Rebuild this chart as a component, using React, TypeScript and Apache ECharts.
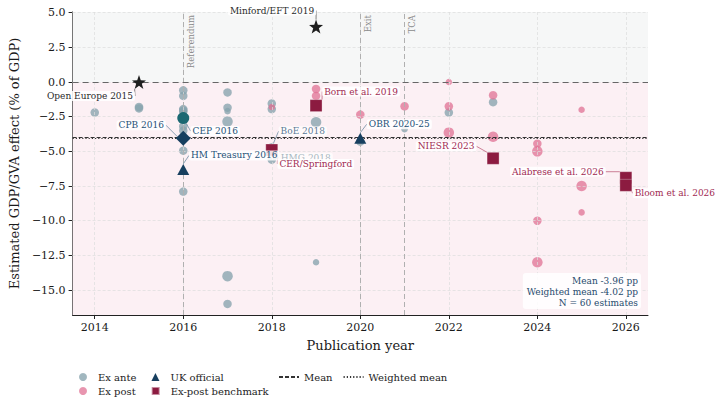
import React, { useEffect, useRef } from "react";
import * as echarts from "echarts";

// ---------- data ----------
const X_TICKS = [2014, 2016, 2018, 2020, 2022, 2024, 2026];
const Y_TICKS = [5, 2.5, 0, -2.5, -5, -7.5, -10, -12.5, -15];
const X_MIN = 2013.5;
const X_MAX = 2026.5;
const Y_MIN = -16.8;
const Y_MAX = 5.05;

const EX_ANTE_YEARS = [2014, 2015, 2015, 2016, 2016, 2016, 2016, 2016, 2016, 2016, 2016, 2016, 2017, 2017, 2017, 2017, 2017, 2017, 2018, 2018, 2018, 2018, 2019, 2019, 2020, 2021, 2022, 2023];
const EX_ANTE_VALUES = [-2.2, -1.8, -1.9, -0.6, -1.0, -1.95, -2.05, -2.15, -3.2, -3.5, -4.95, -7.9, -0.75, -1.85, -2.1, -2.85, -14.0, -16.0, -1.55, -1.95, -4.7, -5.6, -2.9, -13.0, -4.3, -3.4, -2.2, -1.45];
const EX_ANTE_WEIGHTS = [2, 2, 2, 2, 2, 2, 2, 2, 2, 2, 2, 2, 2, 2, 1, 3, 3, 2, 2, 2, 2, 2, 3, 1, 2, 1, 2, 2];
const EX_ANTE_NAMES = ["", "", "", "", "", "", "", "", "", "", "", "", "", "", "", "", "", "", "", "", "BoE 2018", "HMG 2018", "", "", "", "", "", ""];

const EX_POST_YEARS = [2018, 2019, 2019, 2020, 2021, 2022, 2022, 2022, 2023, 2023, 2024, 2024, 2024, 2024, 2025, 2025, 2025];
const EX_POST_VALUES = [-1.8, -0.5, -1.0, -2.35, -1.75, 0.0, -1.75, -3.65, -0.95, -3.95, -4.45, -5.0, -10.0, -13.0, -2.0, -7.5, -9.4];
const EX_POST_WEIGHTS = [1, 2, 2, 2, 2, 1, 2, 3, 2, 3, 2, 3, 2, 3, 1, 3, 1];

const UK_OFFICIAL_NAMES = ["HM Treasury 2016", "OBR 2020-25"];
const UK_OFFICIAL_YEARS = [2016, 2020];
const UK_OFFICIAL_VALUES = [-6.3, -4.05];

const BENCHMARK_NAMES = ["CER/Springford", "Born et al. 2019", "NIESR 2023", "Alabrese et al. 2026", "Bloom et al. 2026"];
const BENCHMARK_YEARS = [2018, 2019, 2023, 2026, 2026];
const BENCHMARK_VALUES = [-4.9, -1.7, -5.5, -6.9, -7.45];

const CEP_NAMES = ["CEP 2016"];
const CEP_YEARS = [2016];
const CEP_VALUES = [-2.6];

const CPB_NAMES = ["CPB 2016"];
const CPB_YEARS = [2016];
const CPB_VALUES = [-4.05];

const OUTLIER_NAMES = ["Minford/EFT 2019", "Open Europe 2015"];
const OUTLIER_YEARS = [2019, 2015];
const OUTLIER_VALUES = [4.0, 0.0];

const EVENT_YEARS = [2016, 2020, 2021];
const EVENT_NAMES = ["Referendum", "Exit", "TCA"];

const MEAN = -3.96;
const WEIGHTED_MEAN = -4.02;
const N_ESTIMATES = 60;

// ---------- layout / style ----------
const FONT = "'DejaVu Serif', serif";
const WEIGHT_SIZE: Record<number, number> = { 1: 6.5, 2: 8.5, 3: 10.5 };
const LABEL_OFFSETS: Record<string, [number, number]> = {
  "Minford/EFT 2019": [-44, -16],
  "Open Europe 2015": [-49, 14],
  "Born et al. 2019": [45, -14],
  "CPB 2016": [-42, -13],
  "CEP 2016": [32, 13],
  "BoE 2018": [31, -16],
  "HM Treasury 2016": [51, -14],
  "HMG 2018": [34, -2],
  "CER/Springford": [44, 14],
  "OBR 2020-25": [39, -14],
  "NIESR 2023": [-47, -12],
  "Alabrese et al. 2026": [-68, -6],
  "Bloom et al. 2026": [49, 8],
};
const BLUE_TEXT = "#245177";
const PINK_TEXT = "#a12a52";
const DARK_TEXT = "#2a2a2a";

function points(years: number[], values: number[], names?: string[], weights?: number[], labelColor?: (name: string) => string) {
  return years.map((x, i) => {
    const name = names ? names[i] : "";
    const item: any = { value: [x, values[i]], name };
    if (weights) item.symbolSize = WEIGHT_SIZE[weights[i]];
    if (name) {
      const c = labelColor ? labelColor(name) : undefined;
      item.label = c ? { show: true, color: c } : { show: true };
      item.labelLine = { show: true };
    }
    return item;
  });
}

function labelCfg(color: string) {
  return {
    show: false,
    position: "inside",
    formatter: "{b}",
    color,
    fontFamily: FONT,
    fontSize: 9,
    backgroundColor: "rgba(255,255,255,0.85)",
    padding: [1, 2, 0, 2],
    borderRadius: 2,
  };
}
function labelLineCfg(color: string) {
  return { show: false, lineStyle: { color, width: 0.8 } };
}
const labelLayout = (params: any) => {
  const off = LABEL_OFFSETS[params.text];
  return off ? { dx: off[0], dy: off[1] } : {};
};

const STAR = "path://M12,0 L14.9,8.1 L23.4,8.3 L16.6,13.5 L19.1,21.7 L12,16.8 L4.9,21.7 L7.4,13.5 L0.6,8.3 L9.1,8.1 Z";

const fmtY = (v: number) => v.toFixed(1).replace("-", "\u2212");

function buildOption(): any {
  const legendText = { fontSize: 10, color: "#222", fontFamily: FONT };
  return {
    animation: false,
    textStyle: { fontFamily: FONT },
    grid: { left: 69, right: 72, top: 12, bottom: 95, containLabel: false },
    xAxis: {
      type: "value",
      min: X_MIN,
      max: X_MAX,
      name: "Publication year",
      nameLocation: "middle",
      nameGap: 24,
      nameTextStyle: { fontSize: 13, color: "#1a1a1a", fontFamily: FONT },
      axisLine: { onZero: false, lineStyle: { color: "#222", width: 1 } },
      axisTick: { show: true, customValues: X_TICKS, length: 4, lineStyle: { color: "#222" } },
      axisLabel: { customValues: X_TICKS, formatter: (v: number) => String(v), fontSize: 11, color: "#1a1a1a", margin: 7, fontFamily: FONT },
      splitLine: { show: false },
    },
    yAxis: {
      type: "value",
      min: Y_MIN,
      max: Y_MAX,
      name: "Estimated GDP/GVA effect (% of GDP)",
      nameLocation: "middle",
      nameGap: 42,
      nameTextStyle: { fontSize: 13, color: "#1a1a1a", fontFamily: FONT },
      axisLine: { show: true, onZero: false, lineStyle: { color: "#222", width: 1 } },
      axisTick: { show: true, customValues: Y_TICKS, length: 4, lineStyle: { color: "#222" } },
      axisLabel: { customValues: Y_TICKS, formatter: fmtY, fontSize: 11, color: "#1a1a1a", margin: 7, fontFamily: FONT },
      splitLine: { show: false },
    },
    legend: [
      {
        left: 79, top: 372, padding: 0, itemWidth: 8, itemHeight: 8, itemGap: 15,
        data: ["Ex ante", "UK official"],
        textStyle: { ...legendText, padding: [0, 0, 0, 6] },
      },
      {
        left: 79, top: 386, padding: 0, itemWidth: 8, itemHeight: 8, itemGap: 15,
        data: ["Ex post", "Ex-post benchmark"],
        textStyle: { ...legendText, padding: [0, 0, 0, 6] },
      },
      {
        left: 278, top: 372, padding: 0, itemWidth: 20, itemHeight: 8, itemGap: 10,
        data: ["Mean", "Weighted mean"],
        itemStyle: { opacity: 0 },
        textStyle: legendText,
      },
    ],
    graphic: [
      {
        type: "text",
        right: 79,
        bottom: 101,
        z: 20,
        style: {
          text: `Mean ${MEAN.toFixed(2)} pp\nWeighted mean ${WEIGHTED_MEAN.toFixed(2)} pp\nN = ${N_ESTIMATES} estimates`,
          align: "right",
          textAlign: "right",
          fill: "#1f4a6d",
          font: `9px ${FONT}`,
          lineHeight: 11,
          backgroundColor: "rgba(255,255,255,0.85)",
          padding: [2, 3, 1, 4],
          borderRadius: 3,
        },
      },
    ],
    series: [
      {
        type: "line",
        name: "_bg",
        data: [],
        silent: true,
        z: 0,
        markArea: {
          silent: true,
          itemStyle: { color: "#f6f7f7" },
          data: [
            [{ yAxis: 0, itemStyle: { color: "#f6f7f7" } }, { yAxis: Y_MAX }],
            [{ yAxis: Y_MIN, itemStyle: { color: "#fcf0f4" } }, { yAxis: 0 }],
          ],
        },
      },
      {
        type: "line",
        name: "_grid",
        data: [],
        silent: true,
        z: 1,
        markLine: {
          silent: true,
          symbol: "none",
          label: { show: false },
          lineStyle: { color: "#dcdcdc", type: [3, 2], width: 0.7 },
          data: [...X_TICKS.map((v) => ({ xAxis: v })), ...Y_TICKS.map((v) => ({ yAxis: v }))],
        },
      },
      {
        type: "line",
        name: "_events",
        data: [],
        silent: true,
        z: 1,
        markLine: {
          silent: true,
          symbol: "none",
          lineStyle: { color: "#b0b0b0", type: [5, 3], width: 1 },
          label: {
            show: true,
            formatter: "{b}",
            position: "insideEndBottom",
            color: "#8a8a8a",
            fontSize: 8.5,
            fontFamily: FONT,
            distance: 3,
          },
          data: EVENT_YEARS.map((v, i) => ({ xAxis: v, name: EVENT_NAMES[i] })),
        },
      },
      {
        type: "line",
        name: "_zero",
        data: [],
        silent: true,
        z: 1,
        markLine: {
          silent: true,
          symbol: "none",
          label: { show: false },
          lineStyle: { color: "#666", type: [6, 4], width: 1 },
          data: [{ yAxis: 0 }],
        },
      },
      {
        type: "line",
        name: "Mean",
        data: [],
        symbol: "none",
        z: 2,
        itemStyle: { color: "#333" },
        lineStyle: { color: "#333", type: [4, 2], width: 1.2 },
        markLine: {
          silent: true,
          symbol: "none",
          label: { show: false },
          lineStyle: { color: "#333", type: [4, 2], width: 1.2 },
          data: [{ yAxis: MEAN }],
        },
      },
      {
        type: "line",
        name: "Weighted mean",
        data: [],
        symbol: "none",
        z: 2,
        itemStyle: { color: "#333" },
        lineStyle: { color: "#333", type: [1.2, 2], width: 1.2 },
        markLine: {
          silent: true,
          symbol: "none",
          label: { show: false },
          lineStyle: { color: "#333", type: [1.2, 2], width: 1.2 },
          data: [{ yAxis: WEIGHTED_MEAN }],
        },
      },
      {
        type: "scatter",
        name: "Ex ante",
        z: 3,
        symbol: "circle",
        itemStyle: { color: "#87a3ad", opacity: 0.78 },
        data: points(EX_ANTE_YEARS, EX_ANTE_VALUES, EX_ANTE_NAMES, EX_ANTE_WEIGHTS, (n) => (n === "HMG 2018" ? "#8aa2ad" : BLUE_TEXT)),
        label: labelCfg(BLUE_TEXT),
        labelLine: labelLineCfg("#6e8ea4"),
        labelLayout,
      },
      {
        type: "scatter",
        name: "Ex post",
        z: 4,
        symbol: "circle",
        itemStyle: { color: "#e07294", opacity: 0.75 },
        data: points(EX_POST_YEARS, EX_POST_VALUES, undefined, EX_POST_WEIGHTS),
      },
      {
        type: "scatter",
        name: "CEP",
        z: 5,
        symbol: "circle",
        symbolSize: 12,
        itemStyle: { color: "#1b6872", opacity: 1 },
        data: points(CEP_YEARS, CEP_VALUES, CEP_NAMES),
        label: labelCfg(BLUE_TEXT),
        labelLine: labelLineCfg("#6e8ea4"),
        labelLayout,
      },
      {
        type: "scatter",
        name: "CPB",
        z: 5,
        symbol: "diamond",
        symbolSize: 15,
        itemStyle: { color: "#173f5f", opacity: 1 },
        data: points(CPB_YEARS, CPB_VALUES, CPB_NAMES),
        label: labelCfg(BLUE_TEXT),
        labelLine: labelLineCfg("#6e8ea4"),
        labelLayout,
      },
      {
        type: "scatter",
        name: "Ex-post benchmark",
        z: 6,
        symbol: "rect",
        symbolSize: 12,
        itemStyle: { color: "#8c1b40", opacity: 1, borderColor: "rgba(255,255,255,0.5)", borderWidth: 0.6 },
        data: points(BENCHMARK_YEARS, BENCHMARK_VALUES, BENCHMARK_NAMES),
        label: labelCfg(PINK_TEXT),
        labelLine: labelLineCfg("#c0627f"),
        labelLayout,
      },
      {
        type: "scatter",
        name: "UK official",
        z: 7,
        symbol: "triangle",
        symbolSize: [12, 11],
        itemStyle: { color: "#173f5f", opacity: 1 },
        data: points(UK_OFFICIAL_YEARS, UK_OFFICIAL_VALUES, UK_OFFICIAL_NAMES),
        label: labelCfg(BLUE_TEXT),
        labelLine: labelLineCfg("#6e8ea4"),
        labelLayout,
      },
      {
        type: "scatter",
        name: "_outliers",
        z: 8,
        symbol: STAR,
        symbolSize: 14,
        itemStyle: { color: "#1e1e1e", opacity: 1 },
        data: points(OUTLIER_YEARS, OUTLIER_VALUES, OUTLIER_NAMES),
        label: labelCfg(DARK_TEXT),
        labelLine: labelLineCfg("#666"),
        labelLayout,
      },
    ],
  };
}

export default function App() {
  const ref = useRef<HTMLDivElement>(null);
  useEffect(() => {
    if (!ref.current) return;
    const chart = echarts.init(ref.current, null, { renderer: "svg" });
    chart.setOption(buildOption());
    return () => chart.dispose();
  }, []);
  return (
    <div
      ref={ref}
      style={{ position: "fixed", left: 0, top: 0, width: 720, height: 410, background: "#fff" }}
    />
  );
}
